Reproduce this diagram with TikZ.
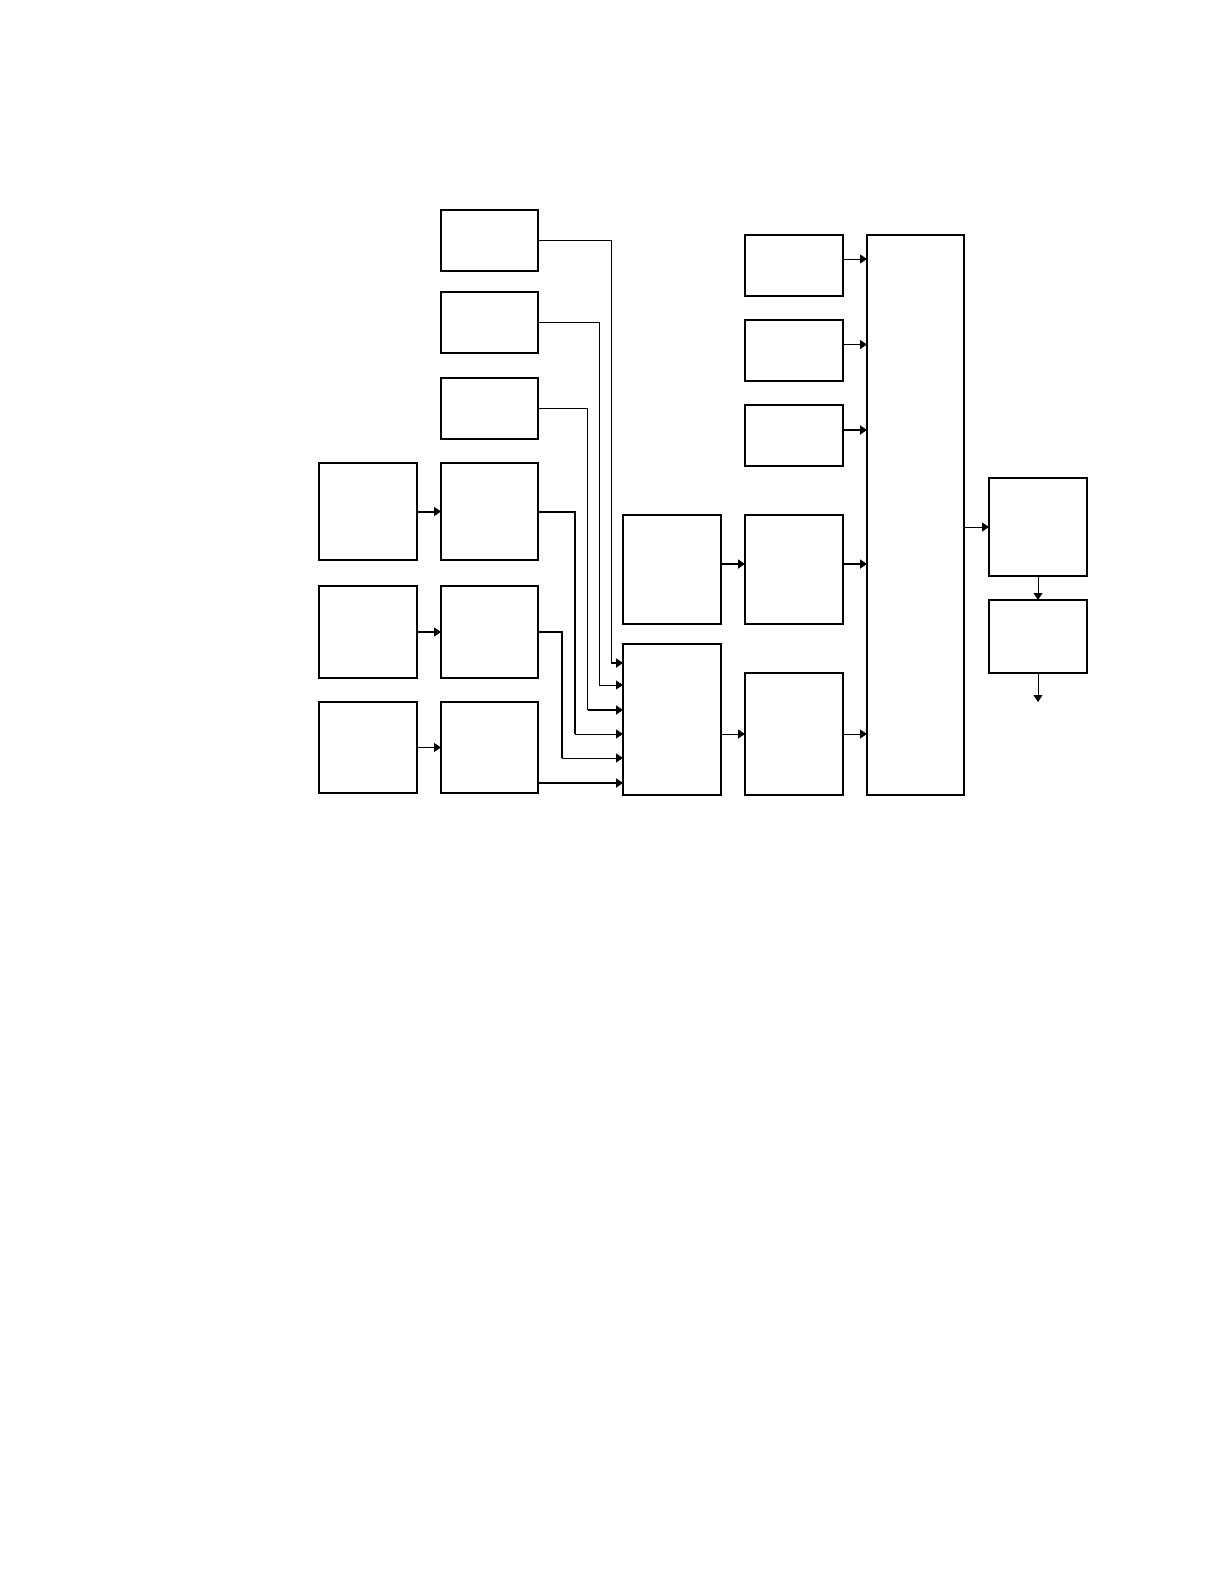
\documentclass[tikz,border=0pt]{standalone}
\usetikzlibrary{arrows.meta}
\begin{document}
\begin{tikzpicture}[x=1pt,y=-1pt,
  box/.style={draw,rectangle,inner sep=0pt,outer sep=0pt,line width=1.1pt,fill=white},
  boxk/.style={box,line width=1.6pt},
  thin/.style={line width=1pt},
  thick/.style={line width=2pt},
  arr/.style={-{Triangle[length=7pt,width=9pt]}}]
\useasboundingbox (0,0) rectangle (1224,1584);
% column A
\node[box,minimum width=98pt,minimum height=97pt] (A1) at (368,511.5) {};
\node[box,minimum width=98pt,minimum height=92pt] (A2) at (368,632) {};
\node[boxk,minimum width=98pt,minimum height=91pt] (A3) at (368,747.5) {};
% column B
\node[box,minimum width=97pt,minimum height=61pt] (B1) at (489.5,240.5) {};
\node[box,minimum width=97pt,minimum height=61pt] (B2) at (489.5,322.5) {};
\node[boxk,minimum width=97pt,minimum height=61pt] (B3) at (489.5,408.5) {};
\node[box,minimum width=97pt,minimum height=97pt] (B4) at (489.5,511.5) {};
\node[box,minimum width=97pt,minimum height=92pt] (B5) at (489.5,632) {};
\node[boxk,minimum width=97pt,minimum height=91pt] (B6) at (489.5,747.5) {};
% column C
\node[boxk,minimum width=98pt,minimum height=109pt] (C1) at (672,569.5) {};
\node[boxk,minimum width=98pt,minimum height=151pt] (C2) at (672,719.5) {};
% column D
\node[boxk,minimum width=98pt,minimum height=61pt] (D1) at (794,265.5) {};
\node[box,minimum width=98pt,minimum height=61pt] (D2) at (794,350.5) {};
\node[box,minimum width=98pt,minimum height=61pt] (D3) at (794,435.5) {};
\node[boxk,minimum width=98pt,minimum height=109pt] (D4) at (794,569.5) {};
\node[boxk,minimum width=98pt,minimum height=122pt] (D5) at (794,734) {};
% column E
\node[boxk,minimum width=97pt,minimum height=560pt] (E) at (915.5,515) {};
% column F
\node[boxk,minimum width=98pt,minimum height=98pt] (F1) at (1038,527) {};
\node[box,minimum width=98pt,minimum height=73pt] (F2) at (1038,636.5) {};
% helper coordinates
\coordinate (r1) at (611,663);
\coordinate (r2) at (599,685);
\coordinate (r3) at (587.5,710);
\coordinate (r4) at (575,734);
\coordinate (r5) at (562,758);
\coordinate (r6) at (560,783);
\coordinate (e1) at (855,259);
\coordinate (e2) at (855,344.5);
\coordinate (e3) at (855,430);
\coordinate (e4) at (855,564);
\coordinate (e5) at (855,734);
\coordinate (out) at (1038,702);
% connectors A -> B
\draw[thick,arr] (A1.east) -- (B4.west);
\draw[line width=1.5pt,arr] (A2.east) -- (B5.west);
\draw[thin,arr] (A3.east) -- (B6.west);
% connectors B -> C2
\draw[thin] (B1.east) -| (r1);
\draw[thick,arr] (r1) -- (r1 -| C2.west);
\draw[thin] (B2.east) -| (r2);
\draw[thin,arr] (r2) -- (r2 -| C2.west);
\draw[thin] (B3.east) -| (r3);
\draw[thick,arr] (r3) -- (r3 -| C2.west);
\draw[thick] (B4.east) -| (r4);
\draw[thin,arr] (r4) -- (r4 -| C2.west);
\draw[line width=1.5pt] (B5.east) -| (r5);
\draw[thin,arr] (r5) -- (r5 -| C2.west);
\draw[thick,arr] (B6.east |- r6) -- (r6 -| C2.west);
% C -> D
\draw[thick,arr] (C1.east |- e4) -- (D4.west |- e4);
\draw[thin,arr] (C2.east |- D5.west) -- (D5.west);
% D -> E
\draw[thin,arr] (D1.east |- e1) -- (E.west |- e1);
\draw[thin,arr] (D2.east |- e2) -- (E.west |- e2);
\draw[thick,arr] (D3.east |- e3) -- (E.west |- e3);
\draw[thick,arr] (D4.east |- e4) -- (E.west |- e4);
\draw[thin,arr] (D5.east |- e5) -- (E.west |- e5);
% E -> F
\draw[thin,arr] (E.east |- F1.west) -- (F1.west);
\draw[thin,arr] (F1.south) -- (F2.north);
\draw[thin,arr] (F2.south) -- (out);
\end{tikzpicture}
\end{document}
